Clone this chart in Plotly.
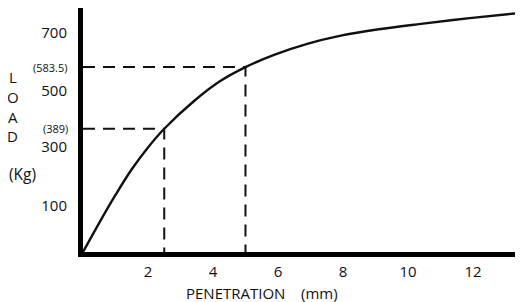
import plotly.graph_objects as go

# Load-penetration curve
penetration_mm = [0, 0.5, 1.0, 1.5, 2.0, 2.5, 3.4, 4.2, 5.0, 5.9, 6.9, 7.9, 9.1, 10.4, 11.9, 13.4]
load_kg = [0, 92, 180, 261, 330, 389, 475, 538, 583.5, 623, 657, 682, 703, 720, 738, 754]

# Marked standard penetrations and the loads read at them
marked_pen = [2.5, 5.0]
marked_load = [389, 583.5]
marked_text = ["(389)", "(583.5)"]

# Axis tick labels (as placed in the picture)
x_tick_vals = [2, 4, 6, 8, 10, 12]
x_tick_text = ["2", "4", "6", "8", "10", "12"]
y_tick_vals = [145, 331, 508, 691]
y_tick_text = ["100", "300", "500", "700"]

INK = "#111111"
FONT = "Open Sans"

fig = go.Figure()

fig.add_trace(go.Scatter(
    x=penetration_mm, y=load_kg, mode="lines",
    line=dict(color=INK, width=2.4, shape="spline", smoothing=1.0),
    hoverinfo="skip", showlegend=False,
))

for p, l in zip(marked_pen, marked_load):
    fig.add_trace(go.Scatter(
        x=[0, p, p], y=[l, l, 0], mode="lines",
        line=dict(color=INK, width=2, dash="12px,8px"),
        hoverinfo="skip", showlegend=False,
    ))

annotations = []
for l, t in zip(marked_load, marked_text):
    annotations.append(dict(
        x=-0.03, xref="paper", y=l, yref="y", text=t, showarrow=False,
        xanchor="right", yanchor="middle",
        font=dict(family=FONT, size=11, color=INK),
    ))

# Vertical axis title written letter by letter
ylab = ["L", "O", "A", "D"]
ylab_y = [0.717, 0.635, 0.553, 0.475]
for ch, yy in zip(ylab, ylab_y):
    annotations.append(dict(
        x=-0.160, xref="paper", y=yy, yref="paper", text=ch, showarrow=False,
        xanchor="center", yanchor="middle",
        font=dict(family=FONT, size=15, color=INK),
    ))
annotations.append(dict(
    x=-0.1375, xref="paper", y=0.320, yref="paper", text="(Kg)", showarrow=False,
    xanchor="center", yanchor="middle",
    font=dict(family=FONT, size=15.5, color=INK),
))
annotations.append(dict(
    x=0.407, xref="paper", y=-0.168, yref="paper",
    text="PENETRATION&nbsp;&nbsp;&nbsp;&nbsp;(mm)", showarrow=False,
    xanchor="center", yanchor="middle",
    font=dict(family=FONT, size=15, color=INK),
))

# The page body adds an 8px offset, so the figure is sized to the visible area
fig.update_layout(
    width=515, height=294,
    margin=dict(l=75, r=0, t=0, b=50),
    paper_bgcolor="white", plot_bgcolor="white",
    font=dict(family=FONT, size=15, color=INK),
    annotations=annotations,
    showlegend=False,
)

fig.update_xaxes(
    range=[0, 13.54], showgrid=False, zeroline=False,
    showline=True, linecolor="black", linewidth=5,
    tickmode="array", tickvals=x_tick_vals, ticktext=x_tick_text,
    ticks="", tickfont=dict(family=FONT, size=15, color=INK),
    ticklabelstandoff=2,
)
fig.update_yaxes(
    range=[0, 770], showgrid=False, zeroline=False,
    showline=True, linecolor="black", linewidth=5,
    tickmode="array", tickvals=y_tick_vals, ticktext=y_tick_text,
    ticks="", tickfont=dict(family=FONT, size=15, color=INK),
    ticklabelstandoff=8,
)

fig.write_html("out.html")
